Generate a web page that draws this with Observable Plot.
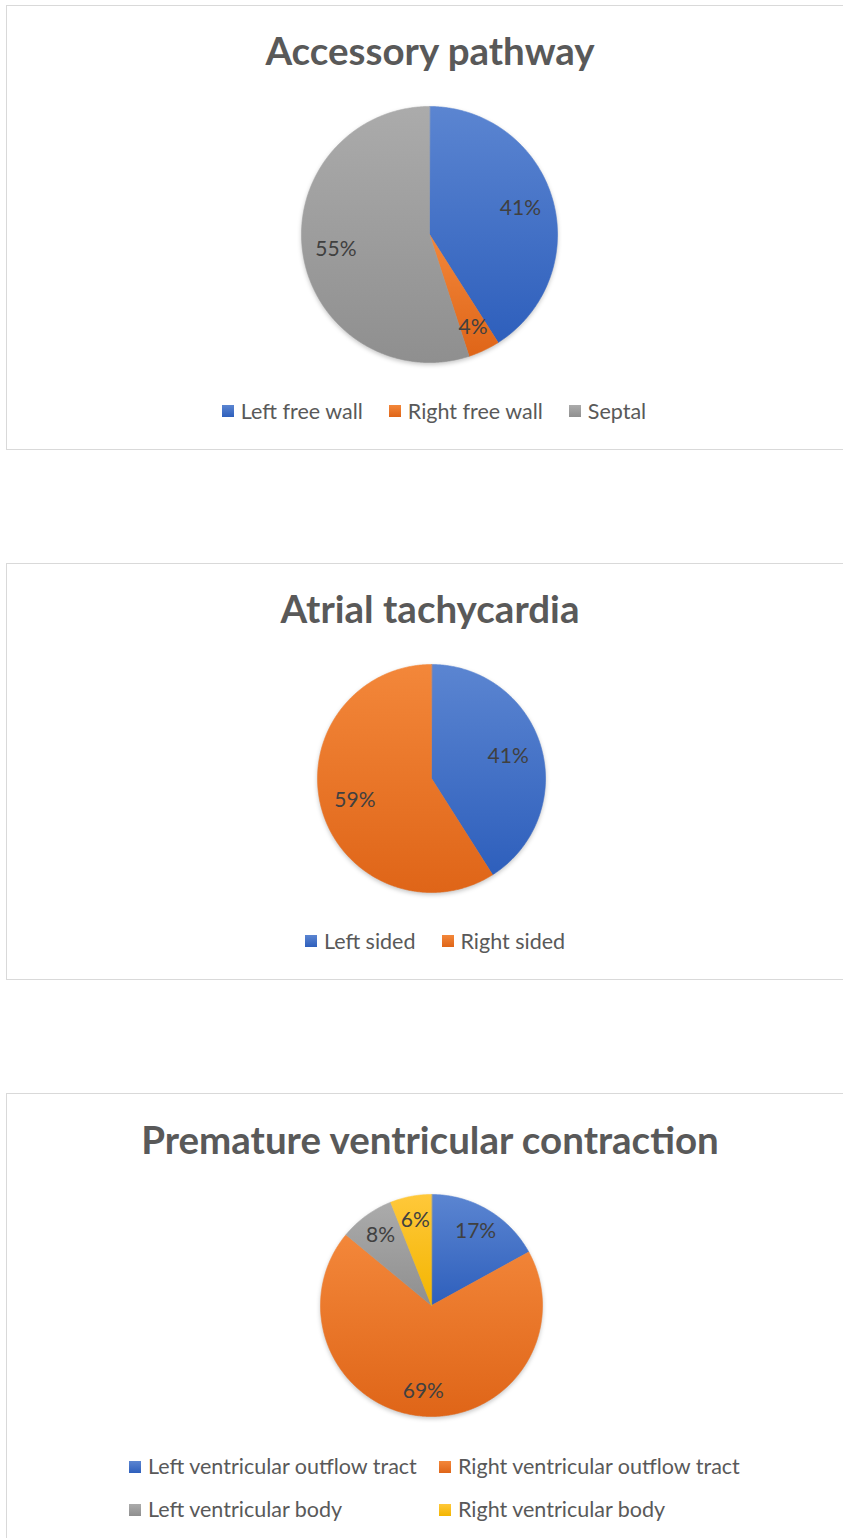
<!DOCTYPE html>
<html>
<head>
<meta charset="utf-8">
<script src="https://cdn.jsdelivr.net/npm/d3@7"></script>
<script src="https://cdn.jsdelivr.net/npm/@observablehq/plot@0.6"></script>
<style>
  html, body { margin: 0; padding: 0; background: #fff; }
  body { position: relative; width: 843px; height: 1538px; overflow: hidden; font-family: Lato, "Open Sans", sans-serif; }
  .panel { position: absolute; left: 6px; width: 850px; border: 1px solid #d9d9d9; box-sizing: border-box; background: #fff; }
  .title { position: absolute; left: 0; width: 860px; text-align: center; font-family: Lato, sans-serif; font-weight: 700; font-size: 38.5px; line-height: 38.5px; color: #595959; white-space: nowrap; }
  .pie { position: absolute; left: 0; }
  .pie svg g[aria-label="line"] { filter: drop-shadow(0px 2px 2px rgba(0,0,0,0.22)); }
  .legend { position: absolute; }
  .legend > div { display: flex; flex-wrap: wrap; align-items: center; min-height: 0; margin: 0; font-family: Lato, sans-serif; font-size: 21.5px; color: #595959; }
  .legend.center > div { justify-content: center; }
  .legend [class$="-swatch"] { display: inline-flex; align-items: center; margin-right: 26px; line-height: 24px; }
  .legend [class$="-swatch"]:last-child { margin-right: 0; }
  .legend svg { margin-right: 7px; }
  #leg3 [class$="-swatch"] { width: 310px; margin-right: 0; line-height: 43px; }
</style>
</head>
<body>
<div class="panel" style="top:5px;height:445px;"></div>
<div class="panel" style="top:563px;height:417px;"></div>
<div class="panel" style="top:1093px;height:470px;"></div>

<div class="title" id="t1"></div>
<div class="title" id="t2"></div>
<div class="title" id="t3"></div>

<div class="pie" id="p1" style="top:95px;"></div>
<div class="pie" id="p2" style="top:655px;"></div>
<div class="pie" id="p3" style="top:1185px;"></div>

<div class="legend center" id="leg1" style="left:0;width:868px;top:399px;"></div>
<div class="legend center" id="leg2" style="left:0;width:870px;top:929px;"></div>
<div class="legend" id="leg3" style="left:129px;width:620px;top:1445px;"></div>

<script>
// ---- Data ----
const titles = ["Accessory pathway", "Atrial tachycardia", "Premature ventricular contraction"];

const apCategories = ["Left free wall", "Right free wall", "Septal"];
const apValues = [41, 4, 55];

const atCategories = ["Left sided", "Right sided"];
const atValues = [41, 59];

const pvcCategories = ["Left ventricular outflow tract", "Right ventricular outflow tract", "Left ventricular body", "Right ventricular body"];
const pvcValues = [17, 69, 8, 6];

// ---- Styles ----
const gradTop    = ["#5b85d1", "#f3873a", "#ababab", "#ffc83a"];
const gradBottom = ["#2e5fbc", "#df6518", "#8f8f8f", "#f3b500"];

function gradientDefs(svg, prefix, n) {
  const defs = d3.select(svg).insert("defs", ":first-child");
  for (let i = 0; i < n; i++) {
    const g = defs.append("linearGradient").attr("id", prefix + i)
      .attr("x1", 0).attr("y1", 0).attr("x2", 0).attr("y2", 1);
    g.append("stop").attr("offset", "0%").attr("stop-color", gradTop[i]);
    g.append("stop").attr("offset", "100%").attr("stop-color", gradBottom[i]);
  }
}

function piePlot(prefix, cats, vals, cx, cy, r, h, labelR) {
  const fills = cats.map((_, i) => `url(#${prefix}${i})`);
  const arcs = d3.pie().sort(null).value(d => d)(vals);
  const pts = [];
  arcs.forEach((a, i) => {
    pts.push({cat: cats[i], x: 0, y: 0});
    const n = Math.max(2, Math.ceil((a.endAngle - a.startAngle) / (Math.PI / 360)));
    for (let k = 0; k <= n; k++) {
      const t = a.startAngle + (a.endAngle - a.startAngle) * k / n;
      pts.push({cat: cats[i], x: Math.sin(t), y: Math.cos(t)});
    }
  });
  const labels = arcs.map((a, i) => {
    const t = (a.startAngle + a.endAngle) / 2;
    // small slices get their label pushed a little further out, as Excel's best fit does
    const rr = vals[i] < 5 ? labelR + 0.06 : labelR;
    return {x: rr * Math.sin(t), y: rr * Math.cos(t), text: vals[i] + "%"};
  });
  const svg = Plot.plot({
    width: 843,
    height: h,
    margin: 0,
    style: {fontFamily: "Lato, sans-serif", background: "transparent"},
    x: {domain: [-1, 1], range: [cx - r, cx + r], axis: null},
    y: {domain: [-1, 1], range: [cy + r, cy - r], axis: null},
    color: {type: "ordinal", domain: cats, range: fills},
    marks: [
      Plot.line(pts, {x: "x", y: "y", z: "cat", fill: "cat", stroke: "cat", strokeWidth: 0.6, curve: "linear-closed"}),
      Plot.text(labels, {x: "x", y: "y", text: "text", fontSize: 21, fill: "#404040", fontFamily: "Lato, sans-serif"})
    ]
  });
  gradientDefs(svg, prefix, cats.length);
  return {svg, fills};
}

function legendFor(cats, fills) {
  return Plot.legend({
    color: {type: "ordinal", domain: cats, range: fills},
    legend: "swatches",
    swatchSize: 12
  });
}

d3.select("#t1").text(titles[0]).style("top", (65 - 34) + "px");
d3.select("#t2").text(titles[1]).style("top", (623 - 34) + "px");
d3.select("#t3").text(titles[2]).style("top", (1154 - 34) + "px");

const c1 = piePlot("ap", apCategories, apValues, 429, 139, 128, 280, 0.74);
document.getElementById("p1").appendChild(c1.svg);
document.getElementById("leg1").appendChild(legendFor(apCategories, c1.fills));

const c2 = piePlot("at", atCategories, atValues, 431, 123, 114, 250, 0.70);
document.getElementById("p2").appendChild(c2.svg);
document.getElementById("leg2").appendChild(legendFor(atCategories, c2.fills));

const c3 = piePlot("pvc", pvcCategories, pvcValues, 431, 120, 111, 240, 0.78);
document.getElementById("p3").appendChild(c3.svg);
document.getElementById("leg3").appendChild(legendFor(pvcCategories, c3.fills));
</script>
</body>
</html>
